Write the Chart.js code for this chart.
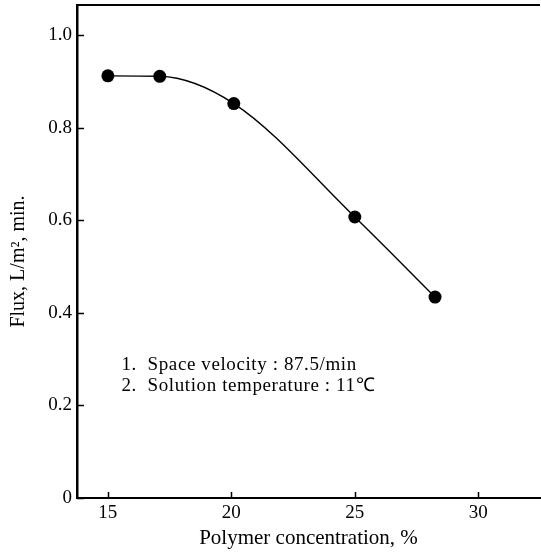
<!DOCTYPE html>
<html>
<head>
<meta charset="utf-8">
<script src="https://cdn.jsdelivr.net/npm/chart.js@4.4.1/dist/chart.umd.min.js"></script>
<style>
    html, body { margin: 0; padding: 0; background: #fff; }
    #fluxChart { display: block; }
</style>
</head>
<body>
<canvas id="fluxChart" width="541" height="553"></canvas>
<script>
// data
const concentration = [15, 17.1, 20.1, 25, 28.25];
const flux = [0.912, 0.911, 0.852, 0.607, 0.434];

const xTicks = [15, 20, 25, 30];
const yTicks = [0, 0.2, 0.4, 0.6, 0.8, 1.0];
const yTickLabels = ['0', '0.2', '0.4', '0.6', '0.8', '1.0'];

const notes = ['1.  Space velocity : 87.5/min', '2.  Solution temperature : 11\u2103'];
const notePosX = 15.55;            // in % units
const notePosY = [0.287, 0.242];   // in flux units

const serif = '"Liberation Serif", "Times New Roman", serif';

document.addEventListener('DOMContentLoaded', function () {

    // inward tick marks, top frame line and the condition notes
    const frameAndNotes = {
        id: 'frameAndNotes',
        afterDraw(chart) {
            const ctx = chart.ctx;
            const xs = chart.scales.x;
            const ys = chart.scales.y;
            const area = chart.chartArea;

            ctx.save();
            ctx.strokeStyle = '#000';
            ctx.lineWidth = 1.5;
            ctx.beginPath();
            xTicks.forEach(v => {
                const px = Math.round(xs.getPixelForValue(v)) + 0.5;
                ctx.moveTo(px, area.bottom);
                ctx.lineTo(px, area.bottom - 6);
            });
            yTicks.forEach(v => {
                const py = Math.round(ys.getPixelForValue(v)) + 0.5;
                ctx.moveTo(area.left, py);
                ctx.lineTo(area.left + 7, py);
            });
            ctx.stroke();

            // top border
            ctx.lineWidth = 2;
            ctx.beginPath();
            ctx.moveTo(area.left, area.top);
            ctx.lineTo(area.right, area.top);
            ctx.stroke();

            ctx.fillStyle = '#000';
            ctx.font = '19px ' + serif;
            ctx.letterSpacing = '0.6px';
            ctx.textAlign = 'left';
            ctx.textBaseline = 'middle';
            notes.forEach((txt, i) => {
                ctx.fillText(txt, xs.getPixelForValue(notePosX), ys.getPixelForValue(notePosY[i]));
            });
            ctx.restore();
        }
    };

    const ctx = document.getElementById('fluxChart').getContext('2d');

    new Chart(ctx, {
        type: 'line',
        data: {
            datasets: [{
                label: 'Flux',
                data: concentration.map((c, i) => ({ x: c, y: flux[i] })),
                borderColor: '#000',
                borderWidth: 1.4,
                backgroundColor: '#000',
                pointBackgroundColor: '#000',
                pointBorderWidth: 0,
                pointRadius: 6.5,
                cubicInterpolationMode: 'monotone',
                fill: false
            }]
        },
        options: {
            responsive: false,
            animation: false,
            devicePixelRatio: 1,
            layout: { autoPadding: false, padding: { top: 5, right: 1, left: 0, bottom: 0 } },
            plugins: {
                legend: { display: false },
                tooltip: { enabled: false }
            },
            scales: {
                x: {
                    type: 'linear',
                    min: 13.75,
                    max: 32.5,
                    afterBuildTicks: s => { s.ticks = xTicks.map(v => ({ value: v })); },
                    afterFit: s => {
                        s.height = 55;
                        s.paddingLeft = 0;
                        s.paddingRight = 0;
                    },
                    grid: { display: false, drawTicks: false },
                    border: { display: true, color: '#000', width: 2 },
                    ticks: {
                        color: '#000',
                        padding: 4,
                        maxRotation: 0,
                        font: { family: serif, size: 19 },
                        callback: v => String(v)
                    },
                    title: {
                        display: true,
                        text: 'Polymer concentration, %',
                        color: '#000',
                        font: { family: serif, size: 21 },
                        padding: { top: 0, bottom: 2 }
                    }
                },
                y: {
                    type: 'linear',
                    min: 0,
                    max: 1.065,
                    afterBuildTicks: s => { s.ticks = yTicks.map(v => ({ value: v })); },
                    afterFit: s => {
                        s.width = 77;
                        s.paddingTop = 0;
                        s.paddingBottom = 0;
                    },
                    grid: { display: false, drawTicks: false },
                    border: { display: true, color: '#000', width: 2.5 },
                    ticks: {
                        color: '#000',
                        padding: 5,
                        font: { family: serif, size: 19 },
                        callback: v => yTickLabels[yTicks.indexOf(v)]
                    },
                    title: {
                        display: true,
                        // trailing no-break spaces nudge the centred title down a little
                        text: 'Flux, L/m\u00B2, min.\u00A0\u00A0\u00A0\u00A0',
                        color: '#000',
                        font: { family: serif, size: 20 },
                        padding: { top: 7, bottom: 0 }
                    }
                }
            }
        },
        plugins: [frameAndNotes]
    });
});
</script>
</body>
</html>
